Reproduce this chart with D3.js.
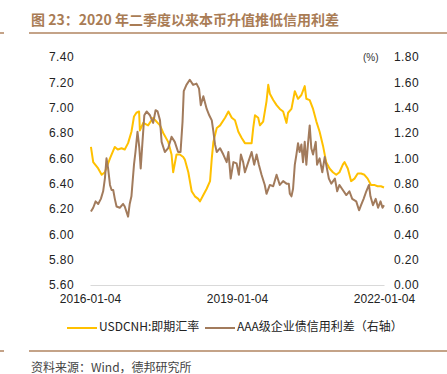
<!DOCTYPE html>
<html>
<head>
<meta charset="utf-8">
<script src="https://cdn.jsdelivr.net/npm/d3@7"></script>
<style>
  body { margin: 0; background: #fff; }
  svg { display: block; }
</style>
</head>
<body>
<div id="chart"></div>
<script>
// 数据：USDCNH 即期汇率（左轴）
const cnhDates = ["2016-01-11","2016-01-28","2016-03-05","2016-03-31","2016-04-24","2016-06-01","2016-07-07","2016-07-29","2016-08-26","2016-09-19","2016-10-14","2016-11-08","2016-11-27","2016-12-15","2017-01-04","2017-01-10","2017-02-04","2017-03-12","2017-04-19","2017-05-14","2017-06-09","2017-07-03","2017-08-09","2017-09-03","2017-09-15","2017-10-10","2017-11-04","2017-11-29","2017-12-11","2018-01-06","2018-01-31","2018-02-24","2018-03-21","2018-04-03","2018-04-28","2018-05-23","2018-06-17","2018-06-30","2018-07-12","2018-08-06","2018-08-31","2018-10-07","2018-11-01","2018-11-26","2018-12-20","2019-01-14","2019-02-08","2019-03-04","2019-03-29","2019-04-23","2019-05-05","2019-05-18","2019-06-11","2019-06-24","2019-07-18","2019-08-12","2019-08-25","2019-09-06","2019-10-01","2019-10-26","2019-11-19","2019-12-14","2020-01-08","2020-01-20","2020-02-14","2020-03-10","2020-04-03","2020-04-28","2020-05-23","2020-06-04","2020-06-29","2020-07-24","2020-08-18","2020-09-11","2020-10-06","2020-10-30","2020-11-24","2020-12-19","2021-01-13","2021-02-06","2021-03-03","2021-03-16","2021-04-09","2021-05-04","2021-05-29","2021-06-22","2021-07-17","2021-08-11","2021-09-04","2021-09-29","2021-10-23","2021-11-17","2021-12-12","2022-01-04"];
const cnhValues = [6.69,6.57,6.52,6.47,6.49,6.60,6.69,6.67,6.68,6.67,6.72,6.81,6.93,6.96,6.97,6.82,6.88,6.86,6.92,6.89,6.86,6.80,6.73,6.63,6.49,6.63,6.63,6.61,6.59,6.49,6.34,6.30,6.28,6.26,6.31,6.36,6.42,6.60,6.73,6.84,6.86,6.92,6.97,6.92,6.90,6.81,6.76,6.72,6.72,6.72,6.84,6.94,6.92,6.86,6.89,7.05,7.18,7.11,7.06,7.02,6.99,6.97,6.88,6.96,6.99,7.13,7.07,7.10,7.17,7.07,7.06,6.99,6.89,6.81,6.70,6.57,6.52,6.49,6.47,6.49,6.55,6.57,6.52,6.42,6.44,6.48,6.48,6.47,6.44,6.39,6.39,6.38,6.38,6.37];

// 数据：AAA级企业债信用利差（右轴，%）
const spreadDates = ["2016-01-11","2016-01-28","2016-02-15","2016-03-05","2016-03-25","2016-04-11","2016-04-24","2016-05-06","2016-05-18","2016-06-01","2016-06-13","2016-06-25","2016-07-07","2016-07-20","2016-08-13","2016-09-07","2016-09-19","2016-10-14","2016-10-26","2016-11-08","2016-11-27","2016-12-08","2016-12-23","2017-01-06","2017-01-16","2017-01-28","2017-02-12","2017-03-01","2017-03-26","2017-04-19","2017-05-07","2017-05-22","2017-06-09","2017-06-21","2017-07-15","2017-08-09","2017-09-03","2017-09-27","2017-10-22","2017-11-09","2017-11-24","2017-12-03","2017-12-23","2018-01-17","2018-02-11","2018-03-08","2018-03-27","2018-04-09","2018-04-28","2018-05-23","2018-06-11","2018-06-30","2018-07-12","2018-07-24","2018-08-06","2018-08-31","2018-09-24","2018-10-19","2018-11-01","2018-11-18","2018-12-08","2019-01-01","2019-01-18","2019-02-02","2019-02-19","2019-03-04","2019-03-29","2019-04-23","2019-05-12","2019-05-30","2019-06-16","2019-07-06","2019-07-30","2019-08-12","2019-09-06","2019-10-01","2019-10-26","2019-11-19","2019-12-14","2020-01-08","2020-01-25","2020-02-02","2020-02-14","2020-02-26","2020-03-10","2020-03-22","2020-04-03","2020-04-15","2020-04-28","2020-05-10","2020-05-23","2020-06-04","2020-06-16","2020-06-29","2020-07-11","2020-07-24","2020-08-13","2020-08-23","2020-09-11","2020-10-01","2020-10-19","2020-10-30","2020-11-19","2020-12-07","2021-01-03","2021-01-20","2021-02-06","2021-03-03","2021-03-29","2021-04-21","2021-05-12","2021-06-11","2021-07-02","2021-07-17","2021-08-05","2021-08-25","2021-09-14","2021-09-25","2021-10-14","2021-11-03","2021-11-21","2021-12-09","2021-12-24","2022-01-04"];
const spreadValues = [0.58,0.61,0.66,0.64,0.68,0.74,0.84,1.00,0.92,0.79,0.75,0.75,0.68,0.62,0.61,0.64,0.62,0.54,0.64,0.70,0.95,1.05,1.21,1.08,0.92,1.11,1.34,1.37,1.34,1.28,1.38,1.37,1.30,1.13,1.05,1.08,1.17,1.13,1.05,1.05,1.29,1.53,1.58,1.62,1.58,1.59,1.55,1.42,1.49,1.39,1.34,1.30,1.21,1.11,1.05,1.08,1.03,0.97,1.05,0.84,0.97,0.96,0.87,1.03,0.97,0.89,0.97,1.05,0.95,1.03,0.95,0.87,0.79,0.72,0.79,0.78,0.87,0.79,0.82,0.80,0.80,0.72,0.70,0.76,0.95,1.03,1.12,1.05,1.11,0.97,1.13,0.95,1.11,1.26,1.08,1.03,1.13,0.95,1.00,0.89,1.01,0.95,0.84,0.80,0.84,0.74,0.79,0.75,0.71,0.74,0.68,0.66,0.59,0.63,0.68,0.74,0.79,0.70,0.63,0.68,0.61,0.66,0.61,0.63];

const leftTicks = [5.6, 5.8, 6.0, 6.2, 6.4, 6.6, 6.8, 7.0, 7.2, 7.4];
const rightTicks = [0, 0.2, 0.4, 0.6, 0.8, 1.0, 1.2, 1.4, 1.6, 1.8];
const xTickLabels = ["2016-01-04", "2019-01-04", "2022-01-04"];

const width = 447, height = 374;
const parse = d3.timeParse("%Y-%m-%d");
const numFont = "'Liberation Sans', Arial, sans-serif";
const cjkFont = "'Noto Sans CJK SC', sans-serif";

const cnh = cnhDates.map((d, i) => ({date: parse(d), value: cnhValues[i]}));
const spread = spreadDates.map((d, i) => ({date: parse(d), value: spreadValues[i]}));

const svg = d3.select("#chart").append("svg")
  .attr("width", width)
  .attr("height", height);

// 标题与分隔线
svg.append("text")
  .attr("x", 31).attr("y", 25)
  .attr("font-family", cjkFont)
  .attr("font-size", 14).attr("font-weight", 700)
  .attr("fill", "#a97c55")
  .text("图 23：2020 年二季度以来本币升值推低信用利差");

[33, 351].forEach(y => {
  svg.append("line").attr("x1", 0).attr("x2", 4).attr("y1", y).attr("y2", y)
    .attr("stroke", "#b08560").attr("stroke-width", 1.5);
  svg.append("line").attr("x1", 29).attr("x2", width).attr("y1", y).attr("y2", y)
    .attr("stroke", "#b08560").attr("stroke-width", 1.5);
});

// 比例尺
const x = d3.scaleTime()
  .domain([parse("2016-01-04"), parse("2022-01-04")])
  .range([90, 384]);
const yLeft = d3.scaleLinear().domain([5.6, 7.4]).range([285, 57]);
const yRight = d3.scaleLinear().domain([0, 1.8]).range([285, 57]);

// 坐标轴
const xAxis = svg.append("g")
  .attr("transform", `translate(0,${yLeft(5.6)})`)
  .call(d3.axisBottom(x)
    .tickValues(xTickLabels.map(parse))
    .tickFormat(d3.timeFormat("%Y-%m-%d"))
    .tickSize(0).tickPadding(9));
xAxis.select(".domain").attr("stroke", "#d9d9d9").attr("stroke-width", 1.2);
xAxis.selectAll("text").attr("font-family", numFont).attr("font-size", 12).attr("fill", "#222");

const leftAxis = svg.append("g")
  .attr("transform", `translate(${x.range()[0]},0)`)
  .call(d3.axisLeft(yLeft).tickValues(leftTicks).tickFormat(d3.format(".2f"))
    .tickSize(0).tickPadding(16));
leftAxis.select(".domain").remove();
leftAxis.selectAll("text").attr("font-family", numFont).attr("font-size", 12)
  .attr("fill", "#222").attr("letter-spacing", 0.4);

const rightAxis = svg.append("g")
  .attr("transform", `translate(${x.range()[1]},0)`)
  .call(d3.axisRight(yRight).tickValues(rightTicks).tickFormat(d3.format(".2f"))
    .tickSize(0).tickPadding(10));
rightAxis.select(".domain").remove();
rightAxis.selectAll("text").attr("font-family", numFont).attr("font-size", 12)
  .attr("fill", "#222").attr("letter-spacing", 0.4);

svg.append("text")
  .attr("x", 363).attr("y", yRight(1.8) + 4)
  .attr("font-family", numFont).attr("font-size", 10).attr("fill", "#333")
  .text("(%)");

// 折线
svg.append("path")
  .datum(cnh)
  .attr("fill", "none")
  .attr("stroke", "#ffc000")
  .attr("stroke-width", 2)
  .attr("stroke-linejoin", "round")
  .attr("d", d3.line().x(d => x(d.date)).y(d => yLeft(d.value)));

svg.append("path")
  .datum(spread)
  .attr("fill", "none")
  .attr("stroke", "#a27b5c")
  .attr("stroke-width", 2)
  .attr("stroke-linejoin", "round")
  .attr("d", d3.line().x(d => x(d.date)).y(d => yRight(d.value)));

// 图例
const legendItems = [
  {label: "USDCNH:即期汇率", color: "#ffc000", x: 67},
  {label: "AAA级企业债信用利差（右轴）", color: "#a27b5c", x: 205}
];
const legend = svg.append("g").attr("transform", "translate(0,328)");
legend.selectAll("g")
  .data(legendItems)
  .join("g")
  .attr("transform", d => `translate(${d.x},0)`)
  .call(g => {
    g.append("line")
      .attr("x1", 0).attr("x2", 30)
      .attr("stroke", d => d.color).attr("stroke-width", 2);
    g.append("text")
      .attr("x", 32).attr("y", 0)
      .attr("dominant-baseline", "middle")
      .attr("font-family", cjkFont).attr("font-size", 12)
      .attr("fill", "#222")
      .text(d => d.label);
  });

// 资料来源
svg.append("text")
  .attr("x", 31).attr("y", 372)
  .attr("font-family", cjkFont).attr("font-size", 12)
  .attr("fill", "#444")
  .text("资料来源：Wind，德邦研究所");
</script>
</body>
</html>
